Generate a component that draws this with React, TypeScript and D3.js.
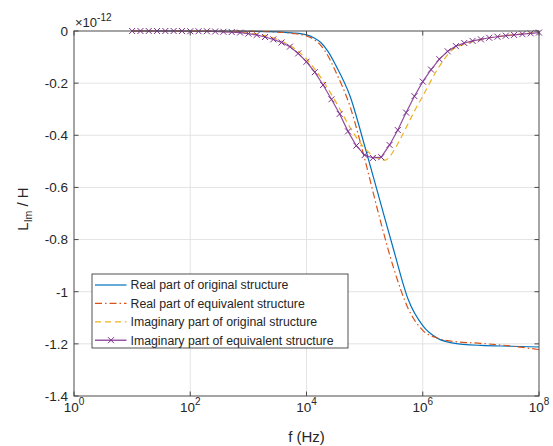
import React from "react";
import * as d3 from "d3";

// ---- data (values in units of 1e-12 H) ----
const realLogFreq = [1, 2, 3, 3.5, 3.75, 4, 4.125, 4.25, 4.375, 4.5, 4.75, 5, 5.25, 5.5, 5.75, 6, 6.25, 6.5, 7, 7.5, 8];
const realOriginal = [0, 0, -0.001, -0.003, -0.007, -0.015, -0.026, -0.045, -0.08, -0.13, -0.25, -0.44, -0.64, -0.84, -1.03, -1.13, -1.178, -1.196, -1.206, -1.209, -1.212];
const realEquivalent = [0, 0, -0.001, -0.004, -0.009, -0.019, -0.032, -0.056, -0.098, -0.155, -0.29, -0.49, -0.71, -0.91, -1.065, -1.148, -1.178, -1.19, -1.198, -1.208, -1.222];

const imagOrigLogFreq = [1, 2, 2.5, 3, 3.5, 4, 4.25, 4.5, 4.75, 5, 5.25, 5.35, 5.5, 5.6, 5.75, 5.85, 6, 6.25, 6.5, 6.75, 7, 7.5, 8];
const imagOriginal = [0, 0, -0.002, -0.008, -0.032, -0.108, -0.18, -0.27, -0.37, -0.45, -0.49, -0.495, -0.46, -0.42, -0.355, -0.31, -0.25, -0.148, -0.074, -0.048, -0.033, -0.016, -0.006];

const imagEquivLogFreq = [
  1.0, 1.143, 1.286, 1.429, 1.571, 1.714, 1.857, 2.0, 2.143, 2.286,
  2.429, 2.571, 2.714, 2.857, 3.0, 3.143, 3.286, 3.429, 3.571, 3.714,
  3.857, 4.0, 4.143, 4.286, 4.429, 4.571, 4.714, 4.857, 5.0, 5.143,
  5.286, 5.429, 5.571, 5.714, 5.857, 6.0, 6.143, 6.286, 6.429, 6.571,
  6.714, 6.857, 7.0, 7.143, 7.286, 7.429, 7.571, 7.714, 7.857, 8.0,
];
const imagEquivalent = [
  0, 0, 0, 0, 0, 0, 0, -0.001, -0.001, -0.001,
  -0.002, -0.003, -0.004, -0.006, -0.01, -0.015, -0.023, -0.032, -0.044, -0.06,
  -0.086, -0.118, -0.158, -0.207, -0.262, -0.318, -0.385, -0.44, -0.476, -0.487,
  -0.484, -0.437, -0.38, -0.313, -0.25, -0.194, -0.148, -0.108, -0.078, -0.058,
  -0.046, -0.038, -0.032, -0.026, -0.022, -0.018, -0.015, -0.012, -0.009, -0.006,
];

const xTickExps = [0, 2, 4, 6, 8];
const yTicks = [0, -0.2, -0.4, -0.6, -0.8, -1, -1.2, -1.4];
const legendLabels = [
  "Real part of original structure",
  "Real part of equivalent structure",
  "Imaginary part of original structure",
  "Imaginary part of equivalent structure",
];

const W = 553, H = 446;
const L = 74, R = 539, T = 31, B = 396;
const FONT = "'Liberation Sans', Arial, Helvetica, sans-serif";
const TXT = "#262626";
const AX = "#4a4a4a";

const colors = ["#0072BD", "#D95319", "#EDB120", "#7E2F8E"];
const dashes = [undefined, "7,3,1.5,3", "6,4", undefined];

export default function App() {
  const x = d3.scaleLog().domain([1, 1e8]).range([L, R]);
  const y = d3.scaleLinear().domain([-1.4, 0]).range([B, T]);

  const mk = (lf: number[], v: number[]) => lf.map((e, i) => [Math.pow(10, e), v[i]] as [number, number]);
  const smooth = d3.line<[number, number]>().x(d => x(d[0])).y(d => y(d[1])).curve(d3.curveMonotoneX);
  const straight = d3.line<[number, number]>().x(d => x(d[0])).y(d => y(d[1]));

  const series = [
    { pts: mk(realLogFreq, realOriginal), gen: smooth },
    { pts: mk(realLogFreq, realEquivalent), gen: smooth },
    { pts: mk(imagOrigLogFreq, imagOriginal), gen: smooth },
    { pts: mk(imagEquivLogFreq, imagEquivalent), gen: straight },
  ];

  const xMarker = (cx: number, cy: number, s: number, key: any) => (
    <path key={key} d={`M${cx - s},${cy - s}L${cx + s},${cy + s}M${cx - s},${cy + s}L${cx + s},${cy - s}`} stroke={colors[3]} strokeWidth={1} fill="none" />
  );

  const gridX = xTickExps.filter(e => e !== 0 && e !== 8);
  const gridY = yTicks.filter(v => v !== 0 && v !== -1.4);

  const legX = 92, legY = 274, legW = 256, legH = 74, rowH = 18.4;

  return (
    <svg width={W} height={H} style={{ position: "absolute", left: 0, top: 0, background: "#fff" }} fontFamily={FONT}>
      <rect x={0} y={0} width={W} height={H} fill="#fff" />
      {gridX.map(e => (
        <line key={"gx" + e} x1={x(Math.pow(10, e))} x2={x(Math.pow(10, e))} y1={T} y2={B} stroke="#e3e3e3" strokeWidth={1} />
      ))}
      {gridY.map(v => (
        <line key={"gy" + v} x1={L} x2={R} y1={y(v)} y2={y(v)} stroke="#e3e3e3" strokeWidth={1} />
      ))}
      {series.map((s, i) => (
        <path key={"s" + i} d={s.gen(s.pts) || ""} fill="none" stroke={colors[i]} strokeWidth={1.2}
          strokeDasharray={dashes[i]} strokeOpacity={i === 3 ? 0.85 : 1} />
      ))}
      {series[3].pts.map((p, i) => xMarker(x(p[0]), y(p[1]), 3, "m" + i))}
      <rect x={L} y={T} width={R - L} height={B - T} fill="none" stroke={AX} strokeWidth={1} />
      {xTickExps.map(e => {
        const px = x(Math.pow(10, e));
        return (
          <g key={"xt" + e}>
            <line x1={px} x2={px} y1={B} y2={B - 4.5} stroke={AX} />
            <line x1={px} x2={px} y1={T} y2={T + 4.5} stroke={AX} />
            <text x={px} y={412} textAnchor="middle" fontSize={13.5} fill={TXT}>
              10<tspan dy={-7} fontSize={10}>{e}</tspan>
            </text>
          </g>
        );
      })}
      {yTicks.map(v => {
        const py = y(v);
        return (
          <g key={"yt" + v}>
            <line x1={L} x2={L + 4.5} y1={py} y2={py} stroke={AX} />
            <line x1={R} x2={R - 4.5} y1={py} y2={py} stroke={AX} />
            <text x={68} y={py + 4.8} textAnchor="end" fontSize={13.5} fill={TXT}>{String(v)}</text>
          </g>
        );
      })}
      <text x={75} y={27} fontSize={13} fill={TXT}>
        ×10<tspan dy={-6} fontSize={10}>-12</tspan>
      </text>
      <text x={(L + R) / 2} y={442} textAnchor="middle" fontSize={15} fill={TXT}>f (Hz)</text>
      <text transform={`translate(28,${209}) rotate(-90)`} textAnchor="middle" fontSize={15} fill={TXT}>
        L<tspan dy={4} fontSize={10.5}>Im</tspan><tspan dy={-4}> / H</tspan>
      </text>
      <rect x={legX} y={legY} width={legW} height={legH} fill="#fff" stroke="#262626" strokeWidth={0.8} />
      {legendLabels.map((lab, i) => {
        const cy = legY + 11 + i * rowH;
        return (
          <g key={"lg" + i}>
            <line x1={95} x2={126.5} y1={cy} y2={cy} stroke={colors[i]} strokeWidth={1.2} strokeDasharray={dashes[i]} />
            {i === 3 && xMarker(111, cy, 3, "lm")}
            <text x={130.5} y={cy + 4.3} fontSize={12.3} fill={TXT}>{lab}</text>
          </g>
        );
      })}
    </svg>
  );
}
